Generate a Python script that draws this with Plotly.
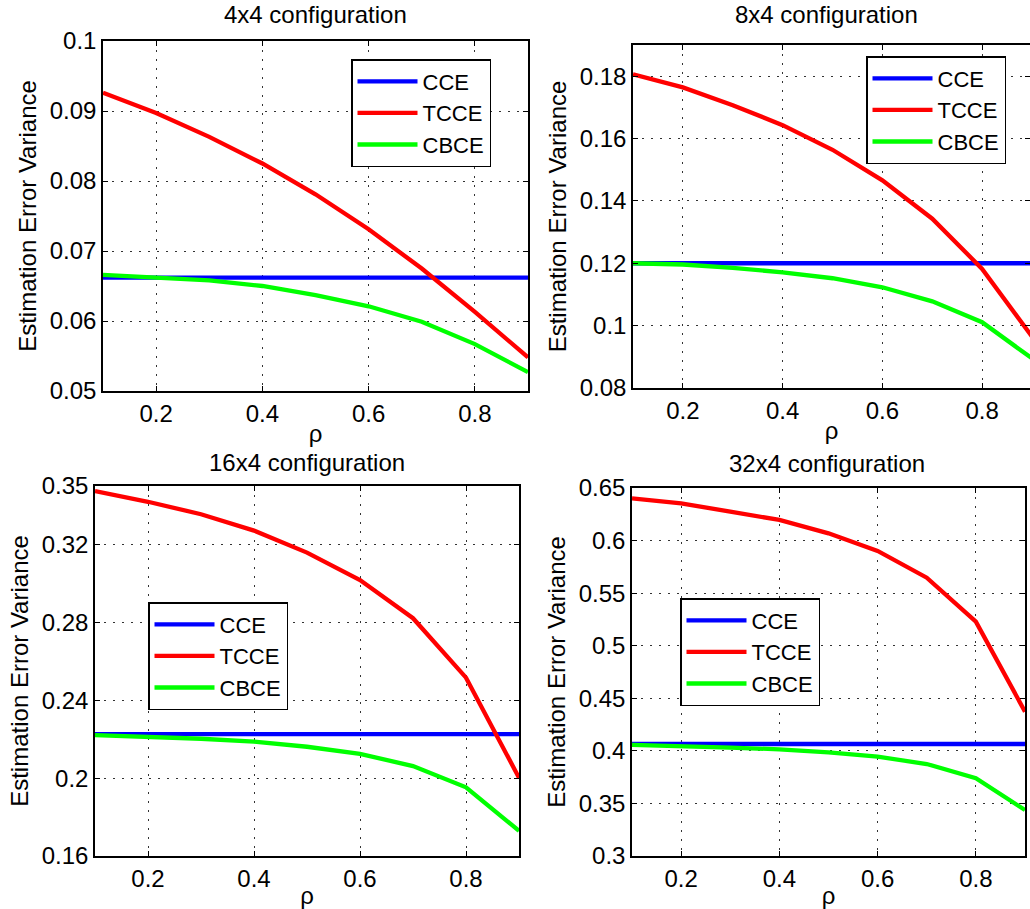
import plotly.graph_objects as go

rho = [0.1, 0.2, 0.3, 0.4, 0.5, 0.6, 0.7, 0.8, 0.9]

# 4x4 configuration
cce_4x4 = [0.0662] * 9
tcce_4x4 = [0.0926, 0.0897, 0.0863, 0.0825, 0.0781, 0.0731, 0.0675, 0.0613, 0.0548]
cbce_4x4 = [0.0666, 0.0662, 0.0658, 0.0650, 0.0637, 0.0621, 0.0599, 0.0567, 0.0527]

# 8x4 configuration
cce_8x4 = [0.1200] * 9
tcce_8x4 = [0.1806, 0.1764, 0.1707, 0.1643, 0.1564, 0.1466, 0.1343, 0.1182, 0.0965]
cbce_8x4 = [0.1200, 0.1196, 0.1185, 0.1171, 0.1152, 0.1123, 0.1078, 0.1011, 0.0895]

# 16x4 configuration
cce_16x4 = [0.2226] * 9
tcce_16x4 = [0.3474, 0.3419, 0.3355, 0.3271, 0.3158, 0.3017, 0.2821, 0.2516, 0.2002]
cbce_16x4 = [0.2221, 0.2213, 0.2202, 0.2187, 0.2161, 0.2124, 0.2062, 0.1953, 0.1729]

# 32x4 configuration
cce_32x4 = [0.4065] * 9
tcce_32x4 = [0.6402, 0.6354, 0.6275, 0.6196, 0.6069, 0.5901, 0.5647, 0.5229, 0.4373]
cbce_32x4 = [0.4056, 0.4046, 0.4030, 0.4015, 0.3986, 0.3945, 0.3875, 0.3739, 0.3437]

titles = ["4x4 configuration", "8x4 configuration", "16x4 configuration", "32x4 configuration"]
series_names = ["CCE", "TCCE", "CBCE"]
colors = ["#0000ff", "#ff0000", "#00ff00"]

x_ticks = [0.2, 0.4, 0.6, 0.8]
y_ticks = [
    [0.05, 0.06, 0.07, 0.08, 0.09, 0.1],
    [0.08, 0.1, 0.12, 0.14, 0.16, 0.18],
    [0.16, 0.2, 0.24, 0.28, 0.32, 0.35],
    [0.3, 0.35, 0.4, 0.45, 0.5, 0.55, 0.6, 0.65],
]
y_tick_text = [
    ["0.05", "0.06", "0.07", "0.08", "0.09", "0.1"],
    ["0.08", "0.1", "0.12", "0.14", "0.16", "0.18"],
    ["0.16", "0.2", "0.24", "0.28", "0.32", "0.35"],
    ["0.3", "0.35", "0.4", "0.45", "0.5", "0.55", "0.6", "0.65"],
]
y_ranges = [[0.05, 0.1], [0.08, 0.19], [0.16, 0.35], [0.3, 0.65]]
x_ranges = [[0.1, 0.9], [0.1, 0.896], [0.1, 0.9], [0.1, 0.9]]

data = [
    [cce_4x4, tcce_4x4, cbce_4x4],
    [cce_8x4, tcce_8x4, cbce_8x4],
    [cce_16x4, tcce_16x4, cbce_16x4],
    [cce_32x4, tcce_32x4, cbce_32x4],
]

W, H = 1030, 909
# plot-area pixel boxes (left, right, top, bottom)
boxes = [(103, 528, 41, 391), (633, 1030, 45, 388), (95, 519, 486, 856), (632, 1025, 488, 856)]
legend_pos = [(351, 59), (866, 56), (148, 602), (680, 598)]
title_pos = [(315, 15), (826, 15), (307, 462), (827, 463)]

FONT = "Liberation Sans, Arial, Helvetica, sans-serif"
FS = 24

fig = go.Figure()
layout = dict(
    width=W, height=H,
    margin=dict(l=0, r=0, t=0, b=0, autoexpand=False),
    paper_bgcolor="white", plot_bgcolor="white",
    font=dict(family=FONT, size=FS, color="black"),
    annotations=[],
)

for i in range(4):
    sfx = "" if i == 0 else str(i + 1)
    leg = "legend" if i == 0 else "legend" + str(i + 1)
    for j in range(3):
        fig.add_trace(go.Scatter(
            x=rho, y=data[i][j], mode="lines", name=series_names[j],
            line=dict(color=colors[j], width=4.3),
            xaxis="x" + sfx, yaxis="y" + sfx, legend=leg,
        ))
    l, r, t, b = boxes[i]
    axis_common = dict(
        showline=True, linecolor="black", linewidth=1.5, mirror="ticks",
        ticks="inside", ticklen=5, tickcolor="black", automargin=False,
        showgrid=True, gridcolor="#333333", griddash="2px,7px", gridwidth=1,
        zeroline=False, tickfont=dict(family=FONT, size=FS, color="black"),
    )
    layout["xaxis" + sfx] = dict(
        axis_common, domain=[l / W, r / W], range=x_ranges[i],
        tickvals=x_ticks, ticktext=[f"{v:g}" for v in x_ticks],
        anchor="y" + sfx,
        title=dict(text="ρ", font=dict(family=FONT, size=FS), standoff=0),
    )
    layout["yaxis" + sfx] = dict(
        axis_common, domain=[1 - b / H, 1 - t / H], range=y_ranges[i],
        tickvals=y_ticks[i], ticktext=y_tick_text[i],
        anchor="x" + sfx,
        title=dict(text="Estimation Error Variance", font=dict(family=FONT, size=FS), standoff=6),
    )
    lx, ly = legend_pos[i]
    layout[leg] = dict(
        x=lx / W, y=1 - ly / H, xanchor="left", yanchor="top",
        bgcolor="white", bordercolor="black", borderwidth=1.5,
        font=dict(family=FONT, size=22, color="black"),
        itemwidth=60, tracegroupgap=0,
    )
    tx, ty = title_pos[i]
    layout["annotations"].append(dict(
        text=titles[i], x=tx / W, y=1 - ty / H, xref="paper", yref="paper",
        xanchor="center", yanchor="middle", showarrow=False,
        font=dict(family=FONT, size=FS, color="black"),
    ))

fig.update_layout(**layout)
fig.write_html(
    "out.html",
    config={"displayModeBar": False},
    post_script="document.body.style.margin='0';document.body.style.padding='0';document.body.style.overflow='hidden';",
)
